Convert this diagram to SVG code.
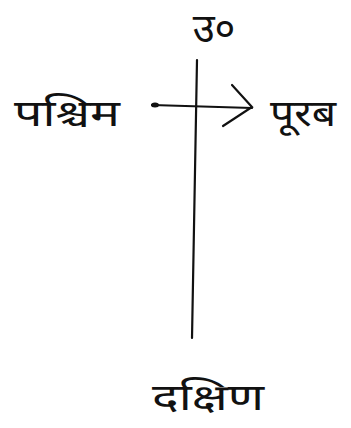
<svg xmlns="http://www.w3.org/2000/svg" width="351" height="428" viewBox="0 0 351 428">
<style>
.t{font-family:"Noto Sans Devanagari","Noto Sans","Lohit Devanagari","FreeSans",sans-serif;fill:#111;}
.ln{stroke:#111;stroke-width:2.2;fill:none;stroke-linecap:round;}
</style>
<rect width="351" height="428" fill="#fff"/>
<g id="connectors">
<path class="ln" d="M197,60 L192,338"/>
<path class="ln" d="M152,105 L252,108"/>
<ellipse cx="155" cy="105" rx="4" ry="2.5" fill="#111"/>
<path class="ln" d="M232,85 L252,107 L223,126" stroke-width="3"/>
</g>
<g id="north"><text class="t" x="214" y="42" font-size="40" text-anchor="middle">उ०</text></g>
<g id="west"><text class="t" x="14" y="126" font-size="36" textLength="106" lengthAdjust="spacingAndGlyphs">पश्चिम</text></g>
<g id="east"><text class="t" x="270" y="126" font-size="36" textLength="66" lengthAdjust="spacingAndGlyphs">पूरब</text></g>
<g id="south"><text class="t" x="152" y="410" font-size="36" textLength="112" lengthAdjust="spacingAndGlyphs">दक्षिण</text></g>
</svg>
